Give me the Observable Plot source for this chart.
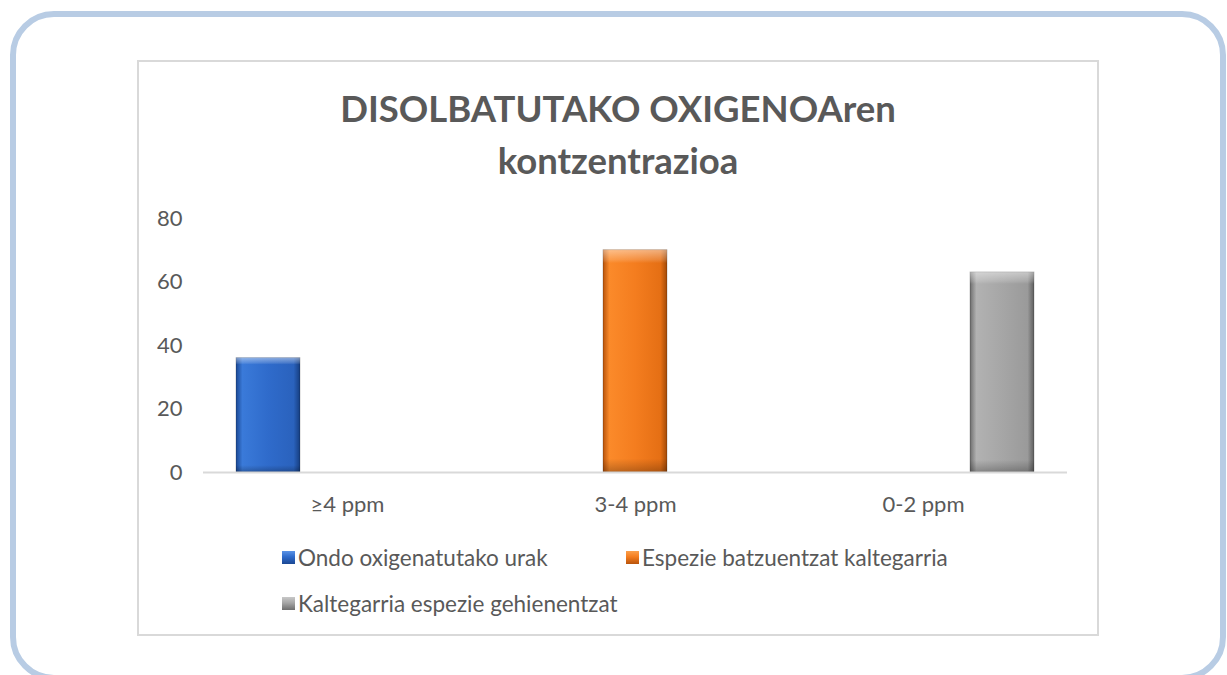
<!DOCTYPE html>
<html>
<head>
<meta charset="utf-8">
<script src="https://cdn.jsdelivr.net/npm/d3@7"></script>
<script src="https://cdn.jsdelivr.net/npm/@observablehq/plot@0.6"></script>
<style>
  html, body { margin: 0; padding: 0; background: #fff; }
  body { width: 1227px; height: 675px; overflow: hidden; position: relative; font-family: Lato, "Open Sans", sans-serif; }
  #outer { position: absolute; left: 10px; top: 11px; width: 1216px; height: 670px; box-sizing: border-box; border: 6px solid #b8cce4; border-radius: 44px; }
  #inner { position: absolute; left: 137px; top: 60px; width: 962px; height: 576px; box-sizing: border-box; border: 2px solid #d9d9d9; }
  #title { position: absolute; left: 137px; width: 962px; top: 82px; text-align: center; font-weight: bold; font-size: 36.5px; line-height: 52px; color: #595959; }
  #chart { position: absolute; left: 137px; top: 200px; }
  .leg { position: absolute; font-size: 22.5px; color: #595959; display: flex; align-items: center; white-space: nowrap; height: 24px; }
  .sw { width: 13px; height: 13px; margin-right: 3px; box-sizing: border-box; }
</style>
</head>
<body>
<div id="outer"></div>
<div id="inner"></div>
<div id="title">DISOLBATUTAKO OXIGENOAren<br>kontzentrazioa</div>
<div id="chart"></div>
<div id="legend"></div>
<script>
// ---- data ----
const categories = ["≥4 ppm", "3-4 ppm", "0-2 ppm"];
const seriesNames = ["Ondo oxigenatutako urak", "Espezie batzuentzat kaltegarria", "Kaltegarria espezie gehienentzat"];
const blueValues = [36, 0, 0];
const orangeValues = [0, 70, 0];
const grayValues = [0, 0, 63];
const yTicks = [0, 20, 40, 60, 80];

const seriesValues = [blueValues, orangeValues, grayValues];
const data = [];
seriesValues.forEach((vals, si) => vals.forEach((v, ci) => data.push({ category: categories[ci], series: seriesNames[si], value: v })));

const gradIds = ["gBlue", "gOrange", "gGray"];
const gradStops = [
  ["#1b4893", "#3a7ad9", "#2f6bcb", "#2a62bd", "#163e80"],
  ["#b8540c", "#fb8a2a", "#f47d1f", "#e56f14", "#a24a08"],
  ["#6e6e6e", "#b2b2b2", "#a6a6a6", "#9a9a9a", "#5e5e5e"]
];

const chart = Plot.plot({
  width: 962,
  height: 320,
  marginLeft: 65,
  marginRight: 31,
  marginTop: 18,
  marginBottom: 48,
  style: { fontFamily: "Lato, 'Open Sans', sans-serif", fontSize: "22px", color: "#595959", background: "transparent", overflow: "visible" },
  fx: { domain: categories, padding: 0, label: null, tickSize: 0, tickPadding: 24 },
  x: { domain: seriesNames, axis: null, paddingInner: 0.1875, paddingOuter: 0.4 },
  y: { domain: [0, 80], ticks: yTicks, tickSize: 0, tickPadding: 21, label: null },
  color: { domain: seriesNames, range: gradIds.map(id => `url(#${id})`) },
  marks: [
    Plot.barY(data, { fx: "category", x: "series", y: "value", fill: "series", stroke: "rgba(0,0,0,0.25)", strokeWidth: 0.8 }),
    Plot.barY(data, { fx: "category", x: "series", y: "value", fill: "url(#bevel)" }),
    Plot.ruleY([0], { stroke: "#d9d9d9", strokeWidth: 2 })
  ]
});

// gradient definitions for the bevelled bars
const svg = d3.select(chart);
const defs = svg.insert("defs", ":first-child");
gradIds.forEach((id, i) => {
  const g = defs.append("linearGradient").attr("id", id).attr("x1", 0).attr("x2", 1).attr("y1", 0).attr("y2", 0);
  const offs = [0, 0.1, 0.5, 0.9, 1];
  offs.forEach((o, k) => g.append("stop").attr("offset", o).attr("stop-color", gradStops[i][k]));
});
const bev = defs.append("linearGradient").attr("id", "bevel").attr("x1", 0).attr("x2", 0).attr("y1", 0).attr("y2", 1);
[[0, "#fff", 0.45], [0.045, "#fff", 0.15], [0.06, "#fff", 0], [0.94, "#000", 0], [0.97, "#000", 0.12], [1, "#000", 0.25]]
  .forEach(([o, c, a]) => bev.append("stop").attr("offset", o).attr("stop-color", c).attr("stop-opacity", a));

document.getElementById("chart").appendChild(chart);

// legend (HTML)
const legendPos = [[282, 545], [626, 545], [282, 591]];
const swatchCss = [
  "linear-gradient(180deg,#5b93e6 0%,#2f6bcb 45%,#1b4893 100%)",
  "linear-gradient(180deg,#fba04d 0%,#f47d1f 45%,#b8540c 100%)",
  "linear-gradient(180deg,#c8c8c8 0%,#a6a6a6 45%,#6e6e6e 100%)"
];
const legend = document.getElementById("legend");
seriesNames.forEach((name, i) => {
  const item = document.createElement("div");
  item.className = "leg";
  item.style.left = legendPos[i][0] + "px";
  item.style.top = legendPos[i][1] + "px";
  const sw = document.createElement("div");
  sw.className = "sw";
  sw.style.background = swatchCss[i];
  const t = document.createElement("span");
  t.textContent = name;
  item.appendChild(sw);
  item.appendChild(t);
  legend.appendChild(item);
});
</script>
</body>
</html>
